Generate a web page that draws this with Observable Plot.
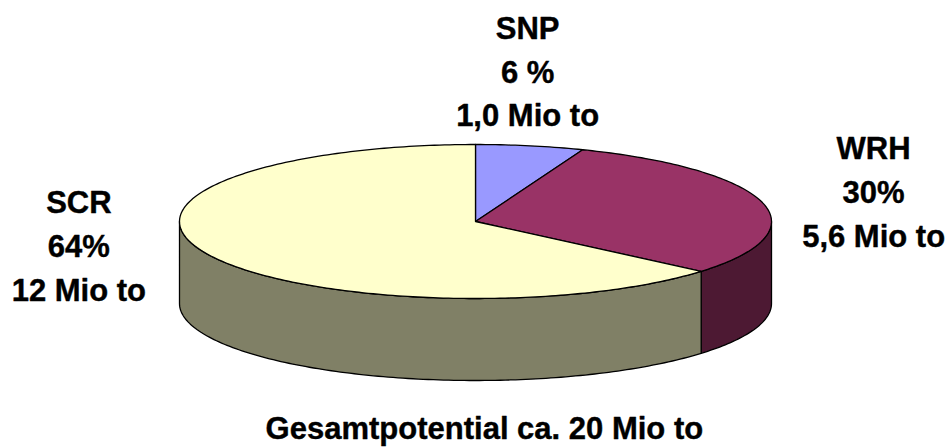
<!DOCTYPE html>
<html>
<head>
<meta charset="utf-8">
<script src="https://cdn.jsdelivr.net/npm/d3@7"></script>
<script src="https://cdn.jsdelivr.net/npm/@observablehq/plot@0.6"></script>
<style>html,body{margin:0;padding:0;background:#fff}svg{display:block}</style>
</head>
<body>
<div id="chart"></div>
<script>
// Data
const categories = ["SNP", "WRH", "SCR"];
const shares = [5.9, 30.3, 63.8];            // drawn share of the pie, percent
const percentLabels = ["6 %", "30%", "64%"];
const tonnageLabels = ["1,0 Mio to", "5,6 Mio to", "12 Mio to"];
const totalLabel = "Gesamtpotential ca. 20 Mio to";

// Styles
const topColors = ["#9999FF", "#993366", "#FFFFCC"];
const sideColors = ["#4D1933", "#4D1933", "#808066"];
const labelX = [0.176, 1.345, -1.34];
const labelY = [-1.985, -0.42, 0.28];
const totalPos = [0.03, 2.70];
const depth = 1.065;   // wall height in pie units
const stepDeg = 1;

// Angles run clockwise from 12 o'clock
const starts = d3.cumsum([0, ...shares]);
const toAngle = p => p * 3.6 * Math.PI / 180;
const rimPoint = (a, drop = 0) => ({x: Math.sin(a), y: -Math.cos(a) + drop});
const arc = (a0, a1, drop = 0) => {
  const n = Math.max(2, Math.ceil(Math.abs(a1 - a0) * 180 / Math.PI / stepDeg));
  return d3.range(n + 1).map(i => rimPoint(a0 + (a1 - a0) * i / n, drop));
};

const topFaces = categories.map((c, i) => {
  const a0 = toAngle(starts[i]), a1 = toAngle(starts[i + 1]);
  return {fill: topColors[i], points: [{x: 0, y: 0}, ...arc(a0, a1), {x: 0, y: 0}]};
});

// Only the part of a slice rim facing the viewer (right, through bottom, to left) has a wall
const front0 = Math.PI / 2, front1 = Math.PI * 1.5;
const walls = categories.flatMap((c, i) => {
  const a0 = Math.max(toAngle(starts[i]), front0), a1 = Math.min(toAngle(starts[i + 1]), front1);
  if (a1 <= a0) return [];
  const upper = arc(a0, a1), lower = arc(a1, a0, depth);
  return [{fill: sideColors[i], points: [...upper, ...lower, upper[0]]}];
});

const outline = {stroke: "#000", strokeWidth: 1.3, strokeLinejoin: "round"};
const polygon = f => Plot.line(f.points, {x: "x", y: "y", fill: f.fill, ...outline});

const labelRows = categories.map((c, i) => ({
  x: labelX[i], y: labelY[i], text: [c, percentLabels[i], tonnageLabels[i]].join("\n")
}));

const textStyle = {
  fontFamily: "'Liberation Sans', Arial, sans-serif",
  fontWeight: 700, fontSize: 31, fill: "#000", stroke: "#000", strokeWidth: 0.4,
  textAnchor: "middle", lineAnchor: "middle"
};

const chart = Plot.plot({
  width: 948, height: 447,
  marginTop: 0, marginRight: 0, marginBottom: 0, marginLeft: 0,
  style: {background: "#fff"},
  x: {domain: [-1, 1], range: [179, 771], axis: null},
  y: {domain: [-1, 1], range: [144, 298], axis: null},
  marks: [
    ...walls.map(polygon),
    ...topFaces.map(polygon),
    Plot.text(labelRows, {x: "x", y: "y", text: "text", lineHeight: 1.41, ...textStyle}),
    Plot.text([totalLabel], {x: () => totalPos[0], y: () => totalPos[1], text: d => d, ...textStyle})
  ]
});
document.getElementById("chart").append(chart);
</script>
</body>
</html>
